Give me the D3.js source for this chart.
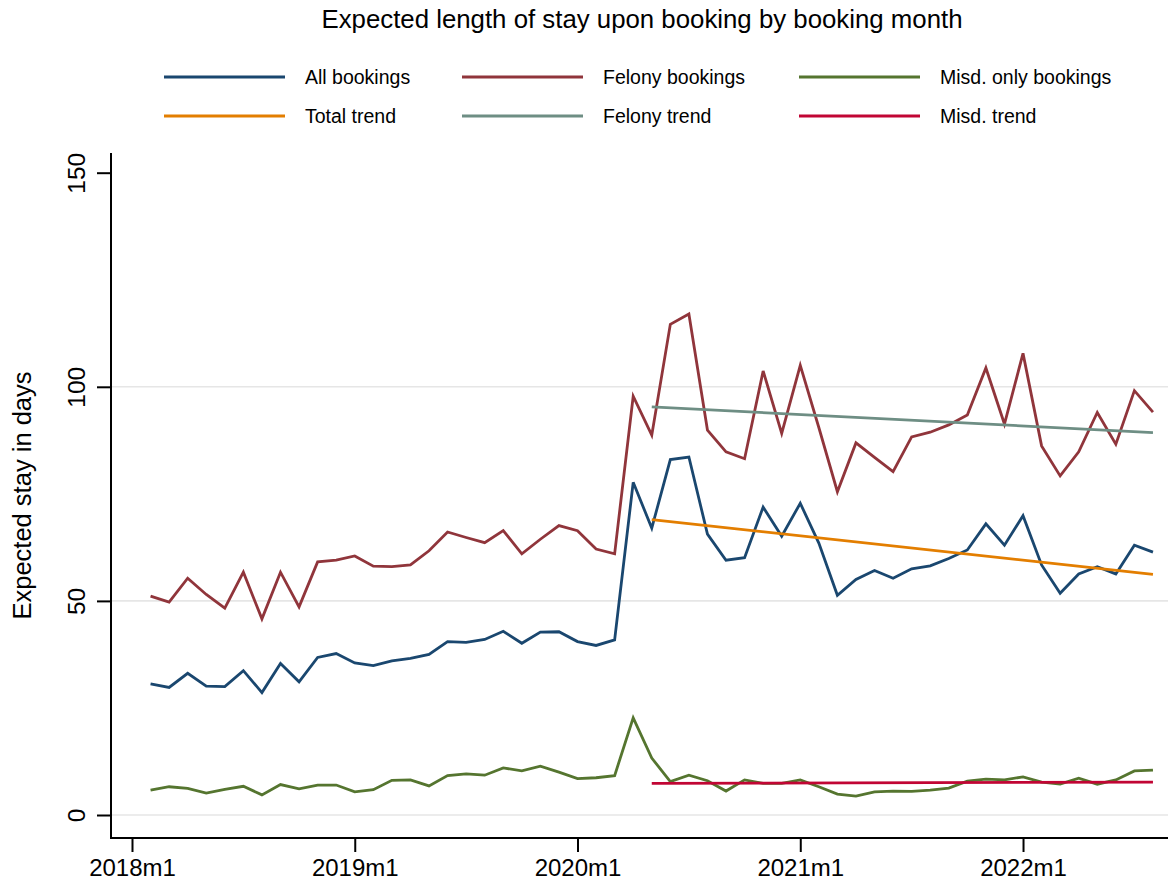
<!DOCTYPE html>
<html>
<head>
<meta charset="utf-8">
<script src="https://cdn.jsdelivr.net/npm/d3@7"></script>
<style>
  html, body { margin: 0; padding: 0; background: #fff; }
  svg { display: block; font-family: "Liberation Sans", Arial, Helvetica, sans-serif; }
</style>
</head>
<body>
<svg id="chart" width="1168" height="881"></svg>
<script>
// Monthly series, 2018m2 through 2022m8 (month index 1 = 2018m2, 0 = 2018m1)
const firstMonthIndex = 1;

const allBookings = [
  30.6, 29.8, 33.1, 30.1, 30.0, 33.7, 28.6, 35.4, 31.1, 36.8, 37.7,
  35.5, 34.9, 36.0, 36.6, 37.5, 40.5, 40.3, 41.0, 42.9, 40.1, 42.7, 42.8,
  40.5, 39.6, 40.9, 77.7, 67.0, 83.0, 83.6, 65.6, 59.5, 60.1, 71.9, 65.1,
  72.8, 63.5, 51.3, 55.0, 57.1, 55.3, 57.5, 58.2, 59.9, 61.9, 68.0, 63.0,
  69.9, 58.4, 51.8, 56.3, 58.0, 56.3, 63.0, 61.4
];

const felonyBookings = [
  51.1, 49.7, 55.3, 51.5, 48.3, 56.7, 45.8, 56.7, 48.6, 59.1, 59.5,
  60.5, 58.1, 58.0, 58.4, 61.7, 66.1, 64.8, 63.6, 66.4, 61.0, 64.4, 67.6,
  66.4, 62.1, 61.0, 97.8, 88.7, 114.6, 117.0, 89.9, 84.8, 83.2, 103.7, 89.1,
  105.0, 90.5, 75.5, 86.9, 83.5, 80.2, 88.3, 89.4, 91.1, 93.4, 104.4, 91.3,
  107.8, 86.2, 79.2, 84.8, 94.0, 86.6, 99.1, 94.1
];

const misdBookings = [
  5.8, 6.6, 6.2, 5.1, 6.0, 6.7, 4.7, 7.1, 6.1, 7.0, 7.0,
  5.4, 5.9, 8.1, 8.2, 6.8, 9.2, 9.6, 9.3, 11.0, 10.3, 11.4, 10.0,
  8.5, 8.7, 9.2, 22.7, 13.3, 7.8, 9.3, 8.0, 5.6, 8.2, 7.4, 7.4,
  8.2, 6.6, 4.9, 4.4, 5.4, 5.6, 5.5, 5.8, 6.3, 7.9, 8.4, 8.2,
  8.9, 7.7, 7.2, 8.6, 7.2, 8.2, 10.3, 10.5
];

// Linear trends fitted from 2020m5 (index 28) to 2022m8 (index 55)
const trendMonths = [28, 55];
const totalTrend  = [69.0, 56.2];
const felonyTrend = [95.3, 89.3];
const misdTrend   = [7.4, 7.7];

const xTickMonths = [0, 12, 24, 36, 48];
const xTickLabels = ["2018m1", "2019m1", "2020m1", "2021m1", "2022m1"];
const yTicks = [0, 50, 100, 150];

const seriesNames = ["All bookings", "Felony bookings", "Misd. only bookings",
                     "Total trend", "Felony trend", "Misd. trend"];
const seriesColors = ["#1a476f", "#90353b", "#55752f", "#e37e00", "#6e8e84", "#c10534"];

const svg = d3.select("#chart");

// Plot region
const plot = { left: 111, right: 1168, top: 153, bottom: 838 };

const x = d3.scaleLinear()
  .domain([-1.131, 55.81])
  .range([plot.left, plot.right]);

const y = d3.scaleLinear()
  .domain([-5.37, 154.6])
  .range([plot.bottom, plot.top]);

// Gridlines
svg.append("g")
  .selectAll("line")
  .data(yTicks.filter(v => v < 150))
  .join("line")
  .attr("x1", plot.left).attr("x2", plot.right)
  .attr("y1", d => y(d)).attr("y2", d => y(d))
  .attr("stroke", "#e6e6e6")
  .attr("stroke-width", 1.6);

// Y axis
const yAxis = d3.axisLeft(y)
  .tickValues(yTicks)
  .tickSize(14)
  .tickPadding(12)
  .tickFormat(d3.format("d"));

const gy = svg.append("g")
  .attr("transform", `translate(${plot.left},0)`)
  .call(yAxis);
gy.select(".domain").remove();
gy.selectAll(".tick line").attr("stroke", "#000").attr("stroke-width", 2);
gy.selectAll(".tick text")
  .attr("font-size", 24.5)
  .attr("fill", "#000")
  .attr("x", null).attr("dy", null)
  .attr("text-anchor", "middle")
  .attr("transform", "translate(-26,0) rotate(-90)");

svg.append("line")
  .attr("x1", plot.left).attr("x2", plot.left)
  .attr("y1", plot.top).attr("y2", plot.bottom + 1)
  .attr("stroke", "#000").attr("stroke-width", 2);

// X axis
const xAxis = d3.axisBottom(x)
  .tickValues(xTickMonths)
  .tickSize(14)
  .tickPadding(10)
  .tickFormat((d, i) => xTickLabels[i]);

const gx = svg.append("g")
  .attr("transform", `translate(0,${plot.bottom})`)
  .call(xAxis);
gx.select(".domain").remove();
gx.selectAll(".tick line").attr("stroke", "#000").attr("stroke-width", 2);
gx.selectAll(".tick text")
  .attr("font-size", 24)
  .attr("fill", "#000")
  .attr("y", 38).attr("dy", null);

svg.append("line")
  .attr("x1", plot.left - 1).attr("x2", plot.right)
  .attr("y1", plot.bottom).attr("y2", plot.bottom)
  .attr("stroke", "#000").attr("stroke-width", 2);

// Series lines
const line = d3.line()
  .x(d => x(d[0]))
  .y(d => y(d[1]));

function monthly(values) {
  return values.map((v, i) => [firstMonthIndex + i, v]);
}
function trend(values) {
  return values.map((v, i) => [trendMonths[i], v]);
}

const seriesData = [
  monthly(allBookings),
  monthly(felonyBookings),
  monthly(misdBookings),
  trend(totalTrend),
  trend(felonyTrend),
  trend(misdTrend)
];

// Observed series first, trends drawn on top
svg.append("g")
  .selectAll("path")
  .data(seriesData)
  .join("path")
  .attr("d", line)
  .attr("fill", "none")
  .attr("stroke", (d, i) => seriesColors[i])
  .attr("stroke-width", 2.8)
  .attr("stroke-linejoin", "miter")
  .attr("stroke-linecap", "butt");

// Title
svg.append("text")
  .attr("x", 642)
  .attr("y", 28)
  .attr("text-anchor", "middle")
  .attr("font-size", 25.8)
  .attr("fill", "#000")
  .text("Expected length of stay upon booking by booking month");

// Y axis title
svg.append("text")
  .attr("transform", `translate(31,${(plot.top + plot.bottom) / 2}) rotate(-90)`)
  .attr("text-anchor", "middle")
  .attr("font-size", 25.5)
  .attr("fill", "#000")
  .text("Expected stay in days");

// Legend: three columns, two rows
const legendCols = [164, 462, 799];
const legendRows = [77, 116];
const legend = svg.append("g")
  .selectAll("g")
  .data(seriesNames)
  .join("g")
  .attr("transform", (d, i) => `translate(${legendCols[i % 3]},${legendRows[Math.floor(i / 3)]})`);

legend.append("line")
  .attr("x1", 0).attr("x2", 121)
  .attr("y1", 0).attr("y2", 0)
  .attr("stroke", (d, i) => seriesColors[i])
  .attr("stroke-width", 2.8);

legend.append("text")
  .attr("x", 141)
  .attr("y", 7)
  .attr("font-size", 19.5)
  .attr("fill", "#000")
  .text(d => d);
</script>
</body>
</html>
